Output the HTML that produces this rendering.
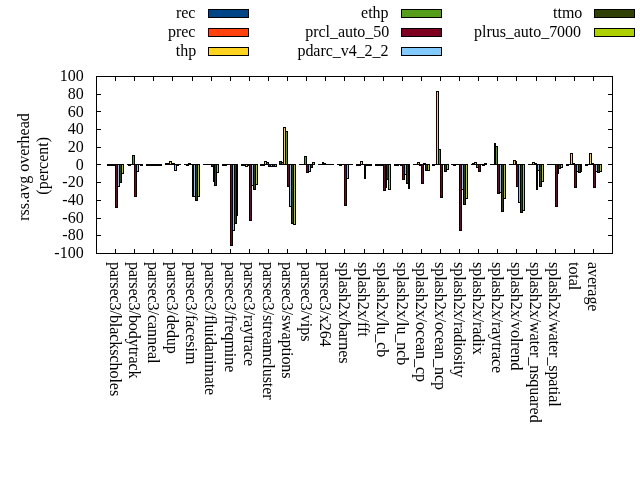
<!DOCTYPE html>
<html><head><meta charset="utf-8"><title>rss.avg overhead</title>
<style>
html,body{margin:0;padding:0;background:#fff;}
body{width:640px;height:480px;overflow:hidden;}
svg{display:block;}
text{font-family:"Liberation Serif",serif;font-size:16px;fill:#000;}
</style></head><body>
<svg width="640" height="480" viewBox="0 0 640 480">
<rect width="640" height="480" fill="#fff"/>
<g shape-rendering="crispEdges" stroke="#000" stroke-width="1">
<g fill="#004586"><path d="M107.5 164.5H109.5V165.5H107.5Z"/><path d="M127 164.5H129"/><path d="M146.5 164.5H148.5V165.5H146.5Z"/><path d="M165.5 164.5H167.5V163.5H165.5Z"/><path d="M184 164.5H187"/><path d="M203 164.5H206"/><path d="M222.5 164.5H224.5V165.5H222.5Z"/><path d="M241.5 164.5H243.5V165.5H241.5Z"/><path d="M260.5 164.5H262.5V165.5H260.5Z"/><path d="M279.5 164.5H281.5V161.5H279.5Z"/><path d="M299 164.5H301"/><path d="M318 164.5H321"/><path d="M337 164.5H340"/><path d="M356.5 164.5H358.5V165.5H356.5Z"/><path d="M375.5 164.5H377.5V165.5H375.5Z"/><path d="M394.5 164.5H396.5V165.5H394.5Z"/><path d="M413 164.5H416"/><path d="M432.5 164.5H434.5V165.5H432.5Z"/><path d="M451 164.5H454"/><path d="M471 164.5H473"/><path d="M490 164.5H493"/><path d="M509 164.5H512"/><path d="M528 164.5H531"/><path d="M547 164.5H550"/><path d="M566.5 164.5H568.5V165.5H566.5Z"/><path d="M585.5 164.5H587.5V165.5H585.5Z"/></g>
<g fill="#ff420e"><path d="M109.5 164.5H111.5V165.5H109.5Z"/><path d="M128.5 164.5H130.5V165.5H128.5Z"/><path d="M148.5 164.5H150.5V165.5H148.5Z"/><path d="M167.5 164.5H169.5V163.5H167.5Z"/><path d="M186.5 164.5H188.5V165.5H186.5Z"/><path d="M205 164.5H208"/><path d="M224.5 164.5H226.5V165.5H224.5Z"/><path d="M243.5 164.5H245.5V165.5H243.5Z"/><path d="M262.5 164.5H264.5V165.5H262.5Z"/><path d="M281.5 164.5H283.5V162.5H281.5Z"/><path d="M300 164.5H303"/><path d="M320 164.5H323"/><path d="M339.5 164.5H341.5V165.5H339.5Z"/><path d="M358.5 164.5H360.5V165.5H358.5Z"/><path d="M377.5 164.5H379.5V165.5H377.5Z"/><path d="M396.5 164.5H398.5V165.5H396.5Z"/><path d="M415 164.5H418"/><path d="M434 164.5H437"/><path d="M453.5 164.5H455.5V165.5H453.5Z"/><path d="M472.5 164.5H474.5V163.5H472.5Z"/><path d="M492 164.5H495"/><path d="M511 164.5H514"/><path d="M530 164.5H533"/><path d="M549 164.5H552"/><path d="M568 164.5H571"/><path d="M587 164.5H590"/></g>
<g fill="#ffd320"><path d="M111.5 164.5H113.5V165.5H111.5Z"/><path d="M130 164.5H133"/><path d="M150.5 164.5H151.5V165.5H150.5Z"/><path d="M169.5 164.5H171.5V161.5H169.5Z"/><path d="M188.5 164.5H190.5V163.5H188.5Z"/><path d="M207 164.5H210"/><path d="M226 164.5H229"/><path d="M245.5 164.5H247.5V166.5H245.5Z"/><path d="M264.5 164.5H266.5V161.5H264.5Z"/><path d="M283.5 164.5H285.5V127.5H283.5Z"/><path d="M302 164.5H305"/><path d="M322.5 164.5H323.5V162.5H322.5Z"/><path d="M341 164.5H344"/><path d="M360.5 164.5H362.5V161.5H360.5Z"/><path d="M379.5 164.5H381.5V165.5H379.5Z"/><path d="M398 164.5H401"/><path d="M417.5 164.5H419.5V162.5H417.5Z"/><path d="M436.5 164.5H438.5V91.5H436.5Z"/><path d="M455 164.5H458"/><path d="M474.5 164.5H476.5V162.5H474.5Z"/><path d="M494.5 164.5H495.5V143.5H494.5Z"/><path d="M513.5 164.5H515.5V160.5H513.5Z"/><path d="M532.5 164.5H534.5V162.5H532.5Z"/><path d="M551 164.5H554"/><path d="M570.5 164.5H572.5V153.5H570.5Z"/><path d="M589.5 164.5H591.5V153.5H589.5Z"/></g>
<g fill="#579d1c"><path d="M113.5 164.5H115.5V165.5H113.5Z"/><path d="M132.5 164.5H134.5V155.5H132.5Z"/><path d="M151.5 164.5H153.5V165.5H151.5Z"/><path d="M171.5 164.5H172.5V163.5H171.5Z"/><path d="M190 164.5H193"/><path d="M209 164.5H212"/><path d="M228 164.5H231"/><path d="M247.5 164.5H249.5V165.5H247.5Z"/><path d="M266.5 164.5H268.5V162.5H266.5Z"/><path d="M285.5 164.5H287.5V131.5H285.5Z"/><path d="M304.5 164.5H306.5V156.5H304.5Z"/><path d="M323.5 164.5H325.5V163.5H323.5Z"/><path d="M343 164.5H345"/><path d="M362 164.5H365"/><path d="M381.5 164.5H383.5V165.5H381.5Z"/><path d="M400.5 164.5H402.5V165.5H400.5Z"/><path d="M419.5 164.5H421.5V165.5H419.5Z"/><path d="M438.5 164.5H440.5V149.5H438.5Z"/><path d="M457 164.5H460"/><path d="M476.5 164.5H478.5V167.5H476.5Z"/><path d="M495.5 164.5H497.5V146.5H495.5Z"/><path d="M515.5 164.5H516.5V161.5H515.5Z"/><path d="M534.5 164.5H536.5V163.5H534.5Z"/><path d="M553 164.5H556"/><path d="M572.5 164.5H574.5V163.5H572.5Z"/><path d="M591.5 164.5H593.5V163.5H591.5Z"/></g>
<g fill="#7e0021"><path d="M115.5 164.5H117.5V207.5H115.5Z"/><path d="M134.5 164.5H136.5V196.5H134.5Z"/><path d="M153.5 164.5H155.5V165.5H153.5Z"/><path d="M172.5 164.5H174.5V163.5H172.5Z"/><path d="M192.5 164.5H193.5V196.5H192.5Z"/><path d="M211.5 164.5H213.5V166.5H211.5Z"/><path d="M230.5 164.5H232.5V245.5H230.5Z"/><path d="M249.5 164.5H251.5V220.5H249.5Z"/><path d="M268.5 164.5H270.5V166.5H268.5Z"/><path d="M287.5 164.5H289.5V186.5H287.5Z"/><path d="M306.5 164.5H308.5V172.5H306.5Z"/><path d="M325 164.5H328"/><path d="M344.5 164.5H346.5V205.5H344.5Z"/><path d="M364.5 164.5H365.5V178.5H364.5Z"/><path d="M383.5 164.5H385.5V190.5H383.5Z"/><path d="M402.5 164.5H404.5V179.5H402.5Z"/><path d="M421.5 164.5H423.5V183.5H421.5Z"/><path d="M440.5 164.5H442.5V197.5H440.5Z"/><path d="M459.5 164.5H461.5V230.5H459.5Z"/><path d="M478.5 164.5H480.5V171.5H478.5Z"/><path d="M497.5 164.5H499.5V193.5H497.5Z"/><path d="M516.5 164.5H518.5V186.5H516.5Z"/><path d="M536.5 164.5H537.5V189.5H536.5Z"/><path d="M555.5 164.5H557.5V206.5H555.5Z"/><path d="M574.5 164.5H576.5V187.5H574.5Z"/><path d="M593.5 164.5H595.5V187.5H593.5Z"/></g>
<g fill="#83caff"><path d="M117.5 164.5H119.5V186.5H117.5Z"/><path d="M136.5 164.5H138.5V171.5H136.5Z"/><path d="M155.5 164.5H157.5V165.5H155.5Z"/><path d="M174.5 164.5H176.5V170.5H174.5Z"/><path d="M193.5 164.5H195.5V196.5H193.5Z"/><path d="M213.5 164.5H214.5V181.5H213.5Z"/><path d="M232.5 164.5H234.5V230.5H232.5Z"/><path d="M251.5 164.5H253.5V185.5H251.5Z"/><path d="M270.5 164.5H272.5V166.5H270.5Z"/><path d="M289.5 164.5H291.5V206.5H289.5Z"/><path d="M308.5 164.5H310.5V171.5H308.5Z"/><path d="M327 164.5H330"/><path d="M346.5 164.5H348.5V178.5H346.5Z"/><path d="M365.5 164.5H367.5V165.5H365.5Z"/><path d="M385.5 164.5H386.5V187.5H385.5Z"/><path d="M404.5 164.5H406.5V174.5H404.5Z"/><path d="M423.5 164.5H425.5V163.5H423.5Z"/><path d="M442 164.5H445"/><path d="M461.5 164.5H463.5V189.5H461.5Z"/><path d="M480 164.5H483"/><path d="M499.5 164.5H501.5V192.5H499.5Z"/><path d="M518.5 164.5H520.5V202.5H518.5Z"/><path d="M537.5 164.5H539.5V170.5H537.5Z"/><path d="M557.5 164.5H558.5V173.5H557.5Z"/><path d="M576.5 164.5H578.5V171.5H576.5Z"/><path d="M595.5 164.5H597.5V171.5H595.5Z"/></g>
<g fill="#314004"><path d="M119.5 164.5H121.5V182.5H119.5Z"/><path d="M138 164.5H141"/><path d="M157.5 164.5H159.5V165.5H157.5Z"/><path d="M176.5 164.5H178.5V165.5H176.5Z"/><path d="M195.5 164.5H197.5V200.5H195.5Z"/><path d="M214.5 164.5H216.5V185.5H214.5Z"/><path d="M234.5 164.5H236.5V223.5H234.5Z"/><path d="M253.5 164.5H255.5V189.5H253.5Z"/><path d="M272.5 164.5H274.5V166.5H272.5Z"/><path d="M291.5 164.5H293.5V223.5H291.5Z"/><path d="M310.5 164.5H312.5V167.5H310.5Z"/><path d="M329 164.5H332"/><path d="M348 164.5H351"/><path d="M367.5 164.5H369.5V165.5H367.5Z"/><path d="M386.5 164.5H388.5V179.5H386.5Z"/><path d="M406.5 164.5H408.5V183.5H406.5Z"/><path d="M425.5 164.5H427.5V170.5H425.5Z"/><path d="M444.5 164.5H446.5V171.5H444.5Z"/><path d="M463.5 164.5H465.5V204.5H463.5Z"/><path d="M482.5 164.5H484.5V165.5H482.5Z"/><path d="M501.5 164.5H503.5V211.5H501.5Z"/><path d="M520.5 164.5H522.5V212.5H520.5Z"/><path d="M539.5 164.5H541.5V186.5H539.5Z"/><path d="M558.5 164.5H560.5V168.5H558.5Z"/><path d="M578.5 164.5H580.5V172.5H578.5Z"/><path d="M597.5 164.5H599.5V172.5H597.5Z"/></g>
<g fill="#aecf00"><path d="M121.5 164.5H123.5V173.5H121.5Z"/><path d="M140.5 164.5H142.5V165.5H140.5Z"/><path d="M159.5 164.5H161.5V165.5H159.5Z"/><path d="M178 164.5H181"/><path d="M197.5 164.5H199.5V196.5H197.5Z"/><path d="M216.5 164.5H218.5V172.5H216.5Z"/><path d="M236.5 164.5H237.5V215.5H236.5Z"/><path d="M255.5 164.5H257.5V184.5H255.5Z"/><path d="M274.5 164.5H276.5V166.5H274.5Z"/><path d="M293.5 164.5H295.5V224.5H293.5Z"/><path d="M312.5 164.5H314.5V162.5H312.5Z"/><path d="M331 164.5H334"/><path d="M350 164.5H353"/><path d="M369.5 164.5H371.5V165.5H369.5Z"/><path d="M388.5 164.5H390.5V189.5H388.5Z"/><path d="M408.5 164.5H409.5V188.5H408.5Z"/><path d="M427.5 164.5H429.5V170.5H427.5Z"/><path d="M446.5 164.5H448.5V169.5H446.5Z"/><path d="M465.5 164.5H467.5V198.5H465.5Z"/><path d="M484.5 164.5H486.5V163.5H484.5Z"/><path d="M503.5 164.5H505.5V198.5H503.5Z"/><path d="M522.5 164.5H524.5V210.5H522.5Z"/><path d="M541.5 164.5H543.5V181.5H541.5Z"/><path d="M560.5 164.5H562.5V167.5H560.5Z"/><path d="M580.5 164.5H581.5V171.5H580.5Z"/><path d="M599.5 164.5H601.5V171.5H599.5Z"/></g>
</g>
<g shape-rendering="crispEdges" stroke="#000" stroke-width="1" fill="none">
<rect x="96.5" y="76.5" width="516" height="177"/>
<path d="M96.5 253.5h4.5M612.5 253.5h-4.5M96.5 235.5h4.5M612.5 235.5h-4.5M96.5 218.5h4.5M612.5 218.5h-4.5M96.5 200.5h4.5M612.5 200.5h-4.5M96.5 182.5h4.5M612.5 182.5h-4.5M96.5 164.5h4.5M612.5 164.5h-4.5M96.5 147.5h4.5M612.5 147.5h-4.5M96.5 129.5h4.5M612.5 129.5h-4.5M96.5 111.5h4.5M612.5 111.5h-4.5M96.5 94.5h4.5M612.5 94.5h-4.5M96.5 76.5h4.5M612.5 76.5h-4.5M115.5 253.5v-4.5M115.5 76.5v4.5M134.5 253.5v-4.5M134.5 76.5v4.5M153.5 253.5v-4.5M153.5 76.5v4.5M172.5 253.5v-4.5M172.5 76.5v4.5M192.5 253.5v-4.5M192.5 76.5v4.5M211.5 253.5v-4.5M211.5 76.5v4.5M230.5 253.5v-4.5M230.5 76.5v4.5M249.5 253.5v-4.5M249.5 76.5v4.5M268.5 253.5v-4.5M268.5 76.5v4.5M287.5 253.5v-4.5M287.5 76.5v4.5M306.5 253.5v-4.5M306.5 76.5v4.5M325.5 253.5v-4.5M325.5 76.5v4.5M344.5 253.5v-4.5M344.5 76.5v4.5M364.5 253.5v-4.5M364.5 76.5v4.5M383.5 253.5v-4.5M383.5 76.5v4.5M402.5 253.5v-4.5M402.5 76.5v4.5M421.5 253.5v-4.5M421.5 76.5v4.5M440.5 253.5v-4.5M440.5 76.5v4.5M459.5 253.5v-4.5M459.5 76.5v4.5M478.5 253.5v-4.5M478.5 76.5v4.5M497.5 253.5v-4.5M497.5 76.5v4.5M516.5 253.5v-4.5M516.5 76.5v4.5M536.5 253.5v-4.5M536.5 76.5v4.5M555.5 253.5v-4.5M555.5 76.5v4.5M574.5 253.5v-4.5M574.5 76.5v4.5M593.5 253.5v-4.5M593.5 76.5v4.5"/>
</g>
<g text-anchor="end">
<text x="83.7" y="258.1">-100</text><text x="83.7" y="240.4">-80</text><text x="83.7" y="222.7">-60</text><text x="83.7" y="205">-40</text><text x="83.7" y="187.3">-20</text><text x="83.7" y="169.6">0</text><text x="83.7" y="151.9">20</text><text x="83.7" y="134.2">40</text><text x="83.7" y="116.5">60</text><text x="83.7" y="98.8">80</text><text x="83.7" y="81.1">100</text>
</g>
<g letter-spacing="-0.05">
<text transform="translate(109.91 262) rotate(90)">parsec3/blackscholes</text>
<text transform="translate(129.02 262) rotate(90)">parsec3/bodytrack</text>
<text transform="translate(148.13 262) rotate(90)">parsec3/canneal</text>
<text transform="translate(167.24 262) rotate(90)">parsec3/dedup</text>
<text transform="translate(186.36 262) rotate(90)">parsec3/facesim</text>
<text transform="translate(205.47 262) rotate(90)">parsec3/fluidanimate</text>
<text transform="translate(224.58 262) rotate(90)">parsec3/freqmine</text>
<text transform="translate(243.69 262) rotate(90)">parsec3/raytrace</text>
<text transform="translate(262.80 262) rotate(90)">parsec3/streamcluster</text>
<text transform="translate(281.91 262) rotate(90)">parsec3/swaptions</text>
<text transform="translate(301.02 262) rotate(90)">parsec3/vips</text>
<text transform="translate(320.13 262) rotate(90)">parsec3/x264</text>
<text transform="translate(339.24 262) rotate(90)">splash2x/barnes</text>
<text transform="translate(358.36 262) rotate(90)">splash2x/fft</text>
<text transform="translate(377.47 262) rotate(90)">splash2x/lu_cb</text>
<text transform="translate(396.58 262) rotate(90)">splash2x/lu_ncb</text>
<text transform="translate(415.69 262) rotate(90)">splash2x/ocean_cp</text>
<text transform="translate(434.80 262) rotate(90)">splash2x/ocean_ncp</text>
<text transform="translate(453.91 262) rotate(90)">splash2x/radiosity</text>
<text transform="translate(473.02 262) rotate(90)">splash2x/radix</text>
<text transform="translate(492.13 262) rotate(90)">splash2x/raytrace</text>
<text transform="translate(511.24 262) rotate(90)">splash2x/volrend</text>
<text transform="translate(530.36 262) rotate(90)">splash2x/water_nsquared</text>
<text transform="translate(549.47 262) rotate(90)">splash2x/water_spatial</text>
<text transform="translate(568.58 262) rotate(90)">total</text>
<text transform="translate(587.69 262) rotate(90)">average</text>
</g>
<g text-anchor="middle">
<text transform="translate(28.9 167) rotate(-90)">rss.avg overhead</text>
<text transform="translate(48.4 165.8) rotate(-90)">(percent)</text>
</g>
<g text-anchor="end" letter-spacing="-0.04">
<text x="195.3" y="17.5">rec</text><rect x="208.5" y="9.5" width="40" height="8" fill="#004586" stroke="#000" stroke-width="1" shape-rendering="crispEdges"/>
<text x="195.3" y="36.5">prec</text><rect x="208.5" y="28.5" width="40" height="8" fill="#ff420e" stroke="#000" stroke-width="1" shape-rendering="crispEdges"/>
<text x="196.2" y="55.5">thp</text><rect x="208.5" y="47.5" width="40" height="8" fill="#ffd320" stroke="#000" stroke-width="1" shape-rendering="crispEdges"/>
<text x="388.5" y="17.5">ethp</text><rect x="401.5" y="9.5" width="40" height="8" fill="#579d1c" stroke="#000" stroke-width="1" shape-rendering="crispEdges"/>
<text x="389.2" y="36.5">prcl_auto_50</text><rect x="401.5" y="28.5" width="40" height="8" fill="#7e0021" stroke="#000" stroke-width="1" shape-rendering="crispEdges"/>
<text x="388.5" y="55.5">pdarc_v4_2_2</text><rect x="401.5" y="47.5" width="40" height="8" fill="#83caff" stroke="#000" stroke-width="1" shape-rendering="crispEdges"/>
<text x="582.3" y="17.5">ttmo</text><rect x="594.5" y="9.5" width="40" height="8" fill="#314004" stroke="#000" stroke-width="1" shape-rendering="crispEdges"/>
<text x="581" y="36.5">plrus_auto_7000</text><rect x="594.5" y="28.5" width="40" height="8" fill="#aecf00" stroke="#000" stroke-width="1" shape-rendering="crispEdges"/>
</g>
</svg>
</body></html>
